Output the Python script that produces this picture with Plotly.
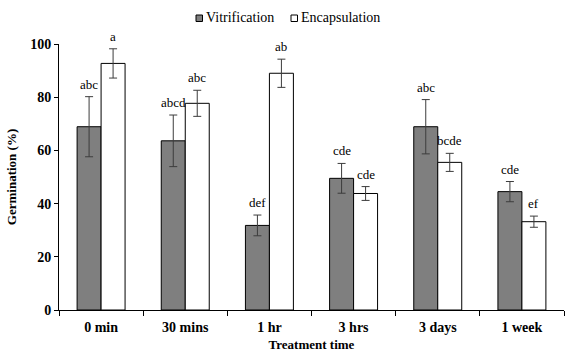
import plotly.graph_objects as go

# Treatment times and germination results (mean ± error) for each method
categories = ["0 min", "30 mins", "1 hr", "3 hrs", "3 days", "1 week"]
vitrification = [68.9, 63.6, 31.8, 49.5, 68.9, 44.5]
vitrification_err = [11.3, 9.7, 3.9, 5.6, 10.2, 3.8]
vitrification_letters = ["abc", "abcd", "def", "cde", "abc", "cde"]
encapsulation = [92.7, 77.7, 89.0, 43.8, 55.5, 33.2]
encapsulation_err = [5.5, 4.9, 5.3, 2.6, 3.4, 2.1]
encapsulation_letters = ["a", "abc", "ab", "cde", "bcde", "ef"]
y_ticks = [0, 20, 40, 60, 80, 100]

FONT = "Liberation Serif"
VIT_COLOR = "#7f7f7f"
ENC_COLOR = "white"
W, H = 565, 356
ML, MR, MT, MB = 59, 1, 44, 46
err_style = dict(type="data", visible=True, color="#3c3c3c", thickness=1, width=4)

fig = go.Figure()
fig.add_trace(go.Bar(
    name="Vitrification", x=categories, y=vitrification,
    error_y=dict(array=vitrification_err, **err_style),
    marker=dict(color=VIT_COLOR, line=dict(color="black", width=1)),
))
fig.add_trace(go.Bar(
    name="Encapsulation", x=categories, y=encapsulation,
    error_y=dict(array=encapsulation_err, **err_style),
    marker=dict(color=ENC_COLOR, line=dict(color="black", width=1)),
))

# Significance letters above each error bar
letter_font = dict(family=FONT, size=13, color="black")
annotations = []
for cat, v, e, t in zip(categories, vitrification, vitrification_err, vitrification_letters):
    annotations.append(dict(x=cat, y=v + e, text=t, xshift=-12, yshift=3,
                            yanchor="bottom", showarrow=False, font=letter_font))
for cat, v, e, t in zip(categories, encapsulation, encapsulation_err, encapsulation_letters):
    annotations.append(dict(x=cat, y=v + e, text=t, xshift=12, yshift=3,
                            yanchor="bottom", showarrow=False, font=letter_font))

# Compact legend row above the plot (pixel positions converted to paper units)
def px_x(px):
    return (px - ML) / (W - ML - MR)

def px_y(py):
    return (H - MB - py) / (H - MT - MB)

shapes = []
legend_items = [("Vitrification", VIT_COLOR, 196), ("Encapsulation", ENC_COLOR, 291)]
for name, color, x0 in legend_items:
    shapes.append(dict(type="rect", xref="paper", yref="paper",
                       x0=px_x(x0), x1=px_x(x0 + 6.5), y0=px_y(21.5), y1=px_y(15),
                       fillcolor=color, line=dict(color="black", width=1)))
    annotations.append(dict(xref="paper", yref="paper", x=px_x(x0 + 8), y=px_y(17.5),
                            xanchor="left", yanchor="middle", text=name, showarrow=False,
                            font=dict(family=FONT, size=14, color="black")))

fig.update_layout(
    template="none",
    width=W, height=H,
    margin=dict(l=ML, r=MR, t=MT, b=MB),
    paper_bgcolor="white", plot_bgcolor="white",
    font=dict(family=FONT, size=13, color="black"),
    barmode="group", bargap=0.43, bargroupgap=0,
    showlegend=False,
    annotations=annotations,
    shapes=shapes,
)
fig.update_xaxes(
    showline=True, linecolor="black", linewidth=1, showgrid=False,
    ticks="outside", tickson="boundaries", ticklen=5, tickcolor="black",
    ticklabelstandoff=4,
    tickfont=dict(family=FONT, size=14, color="black", weight="bold"),
    title=dict(text="<b>Treatment time</b>", font=dict(family=FONT, size=13, color="black"), standoff=6),
)
fig.update_yaxes(
    range=[0, 100], tickvals=y_ticks, showgrid=False, zeroline=False,
    showline=True, linecolor="black", linewidth=1,
    ticks="outside", ticklen=4, tickcolor="black",
    tickfont=dict(family=FONT, size=14, color="black", weight="bold"),
    title=dict(text="<b>Germination (%)</b>", font=dict(family=FONT, size=13, color="black"), standoff=10),
)

fig.write_html("out.html")
